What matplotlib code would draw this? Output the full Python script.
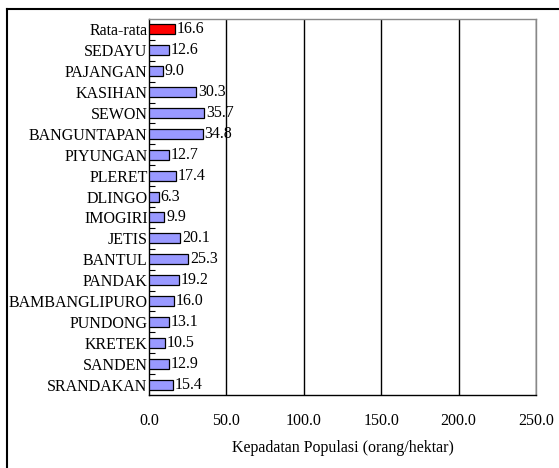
import matplotlib
matplotlib.use("Agg")
import matplotlib.pyplot as plt
from matplotlib.lines import Line2D

categories = ["Rata-rata", "SEDAYU", "PAJANGAN", "KASIHAN", "SEWON", "BANGUNTAPAN",
              "PIYUNGAN", "PLERET", "DLINGO", "IMOGIRI", "JETIS", "BANTUL", "PANDAK",
              "BAMBANGLIPURO", "PUNDONG", "KRETEK", "SANDEN", "SRANDAKAN"]
values = [16.6, 12.6, 9.0, 30.3, 35.7, 34.8, 12.7, 17.4, 6.3, 9.9, 20.1, 25.3, 19.2,
          16.0, 13.1, 10.5, 12.9, 15.4]
xticks = [0, 50, 100, 150, 200, 250]
xlabel = "Kepadatan Populasi (orang/hektar)"

plt.rcParams['font.family'] = ['Liberation Serif', 'DejaVu Serif']
FS = 11.5

W, H = 559, 468
fig = plt.figure(figsize=(W / 100, H / 100), dpi=100)
ax = fig.add_axes([149 / W, 1 - 395 / H, (536 - 149) / W, (395 - 19) / H])

ypos = list(range(len(categories)))
colors = ['#ff0000'] + ['#9999ff'] * (len(categories) - 1)
ax.barh(ypos, values, height=0.48, color=colors, edgecolor='black', linewidth=0.9, zorder=3)
for y, v in zip(ypos, values):
    ax.text(v + 1.2, y, f"{v:.1f}", va='center', ha='left', fontsize=FS, zorder=4)

ax.set_xlim(0, 250)
ax.set_ylim(len(categories) - 0.5, -0.5)
ax.set_xticks(xticks)
ax.set_xticklabels([f"{t:.1f}" for t in xticks], fontsize=FS)
ax.tick_params(axis='x', length=0, pad=13)
ax.set_yticks(ypos)
ax.set_yticklabels(categories, fontsize=FS)
ax.tick_params(axis='y', which='major', length=0, pad=1)
ax.set_yticks([y + 0.5 for y in ypos[:-1]], minor=True)
ax.tick_params(axis='y', which='minor', direction='in', length=4, width=0.8)

for t in xticks[1:]:
    ax.axvline(t, color='black', linewidth=1.0, zorder=1)

ax.spines['left'].set_color('black')
ax.spines['bottom'].set_color('black')
ax.spines['top'].set_color('#888888')
ax.spines['right'].set_color('#888888')
for s in ax.spines.values():
    s.set_linewidth(1.0)

ax.set_xlabel(xlabel, fontsize=FS, labelpad=8)

# outer frame
fig.add_artist(Line2D([6.5 / W, 6.5 / W], [0, 1 - 9 / H], color='black', linewidth=1.5,
                      transform=fig.transFigure))
fig.add_artist(Line2D([6.5 / W, 1], [1 - 9 / H, 1 - 9 / H], color='black', linewidth=1.5,
                      transform=fig.transFigure))

fig.savefig("out.png", dpi=100)
